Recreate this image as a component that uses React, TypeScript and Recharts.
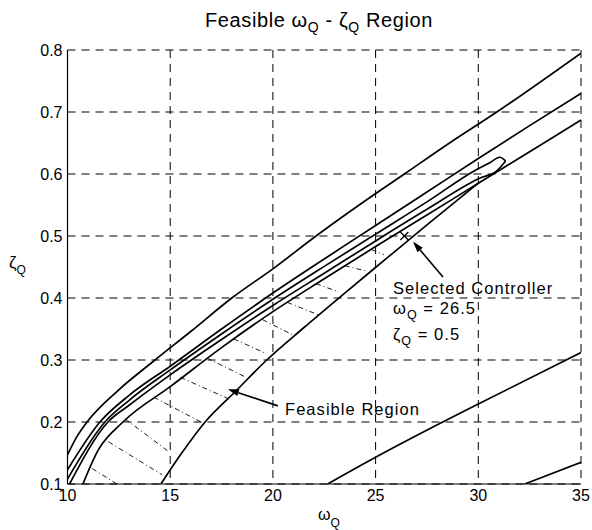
import React from "react";
import {
  LineChart,
  Line,
  XAxis,
  YAxis,
  CartesianGrid,
  ReferenceLine,
  ReferenceDot,
} from "recharts";

// omega_Q ticks / zeta_Q ticks
const xTicks = [10, 15, 20, 25, 30, 35];
const yTicks = [0.1, 0.2, 0.3, 0.4, 0.5, 0.6, 0.7, 0.8];

// contour curves, [omega, zeta]
const curveA: [number, number][] = [
  [10, 0.147], [10.45, 0.176], [10.95, 0.2], [12.5, 0.252], [14.26, 0.3], [16, 0.346],
  [18, 0.4], [20, 0.447], [22.1, 0.5], [24.2, 0.55], [26.4, 0.6], [28.6, 0.65],
  [30.9, 0.7], [35, 0.795],
];
const curveB: [number, number][] = [
  [10, 0.123], [11.58, 0.2], [13, 0.243], [15, 0.29], [17.5, 0.35], [20, 0.408],
  [22.5, 0.463], [25, 0.517], [27.5, 0.571], [30, 0.625], [32.5, 0.678], [35, 0.73],
];
const loopUpper: [number, number][] = [
  [10, 0.108], [11.82, 0.2], [13, 0.235], [15, 0.284], [17.5, 0.342], [20, 0.398],
  [22.5, 0.451], [25, 0.503], [27.5, 0.555], [29.9, 0.607], [30.6, 0.619],
  [31.04, 0.627], [31.33, 0.621],
];
const loopLower: [number, number][] = [
  [10.1, 0.1], [11.97, 0.2], [13, 0.227], [15, 0.276], [17.5, 0.333], [20, 0.388],
  [22.5, 0.44], [25, 0.492], [27.5, 0.543], [30.06, 0.593], [30.9, 0.605],
  [31.33, 0.621],
];
const curveD: [number, number][] = [
  [10.75, 0.1], [11.5, 0.155], [12.7, 0.2], [15, 0.257], [17.5, 0.32], [20, 0.378],
  [22.5, 0.431], [25, 0.483], [27.5, 0.534], [30, 0.585], [32.5, 0.636], [35, 0.687],
];
const curveE: [number, number][] = [
  [14.55, 0.1], [15.5, 0.147], [16.7, 0.2], [18.2, 0.25], [19.7, 0.3], [21.5, 0.352],
  [23.5, 0.408], [25.5, 0.463], [27.5, 0.518], [30.06, 0.587],
];
const curveG: [number, number][] = [
  [22.67, 0.1], [25, 0.143], [28.1, 0.197], [30, 0.229], [35, 0.312],
];
const curveH: [number, number][] = [
  [32.26, 0.1], [35, 0.135],
];

// hatching inside the feasible region: [x1, y1, x2, y2]
const hatches: [number, number, number, number][] = [
  [11.2, 0.125, 12.4, 0.1],
  [12.0, 0.168, 14.6, 0.115],
  [12.8, 0.205, 14.9, 0.153],
  [14.2, 0.24, 16.5, 0.2],
  [15.5, 0.272, 17.8, 0.238],
  [16.8, 0.303, 18.7, 0.272],
  [18.1, 0.334, 19.7, 0.31],
  [19.5, 0.365, 21.0, 0.34],
  [20.7, 0.393, 22.2, 0.373],
  [22.1, 0.423, 23.2, 0.41],
  [23.5, 0.452, 24.6, 0.443],
  [24.8, 0.478, 25.4, 0.47],
];

// annotations
const selected = { x: 26.4, y: 0.5 };
const selectedArrow: [number, number, number, number] = [28.28, 0.434, 26.82, 0.491];
const feasibleArrow: [number, number, number, number] = [20.24, 0.226, 17.81, 0.253];

const curves = [curveA, curveB, loopUpper, loopLower, curveD, curveE, curveG, curveH];

const FONT = '"Liberation Sans", Arial, Helvetica, sans-serif';

const toPts = (c: [number, number][]) => c.map(([x, y]) => ({ x, y }));

const Arrow = (props: any) => {
  const { x1, y1, x2, y2 } = props;
  const ang = Math.atan2(y2 - y1, x2 - x1);
  const len = 11;
  const w = 3.5;
  const bx = x2 - len * Math.cos(ang);
  const by = y2 - len * Math.sin(ang);
  const px = -Math.sin(ang) * w;
  const py = Math.cos(ang) * w;
  return (
    <g>
      <line x1={x1} y1={y1} x2={bx} y2={by} stroke="#000" strokeWidth={1.6} />
      <polygon
        points={`${x2},${y2} ${bx + px},${by + py} ${bx - px},${by - py}`}
        fill="#000"
      />
    </g>
  );
};

const XMark = (props: any) => {
  const { cx, cy } = props;
  const s = 4;
  return (
    <g stroke="#000" strokeWidth={1.3}>
      <line x1={cx - s} y1={cy - s} x2={cx + s} y2={cy + s} />
      <line x1={cx - s} y1={cy + s} x2={cx + s} y2={cy - s} />
    </g>
  );
};

export default function App() {
  return (
    <div style={{ position: "absolute", left: 0, top: 0, width: 592, height: 530, background: "#fff" }}>
      <LineChart
        width={592}
        height={530}
        margin={{ top: 50, right: 11, bottom: 26, left: 7 }}
        style={{ fontFamily: FONT }}
      >
        <CartesianGrid stroke="#000" strokeDasharray="8 6" strokeWidth={1} />
        <XAxis
          type="number"
          dataKey="x"
          domain={[10, 35]}
          ticks={xTicks}
          allowDataOverflow
          axisLine={{ stroke: "#000", strokeWidth: 1.2 }}
          tickLine={false}
          tickSize={0}
          tickMargin={6}
          height={20}
          tick={{ fill: "#000", fontSize: 16, fontFamily: FONT }}
        />
        <YAxis
          type="number"
          domain={[0.1, 0.8]}
          ticks={yTicks}
          allowDataOverflow
          axisLine={{ stroke: "#000", strokeWidth: 1.2 }}
          tickLine={false}
          tickSize={0}
          tickMargin={5}
          width={60.5}
          tickFormatter={(v: number) => v.toFixed(1)}
          tick={{ fill: "#000", fontSize: 16, fontFamily: FONT }}
        />
        {hatches.map(([x1, y1, x2, y2], i) => (
          <ReferenceLine
            key={"h" + i}
            segment={[{ x: x1, y: y1 }, { x: x2, y: y2 }]}
            stroke="#000"
            strokeWidth={0.9}
            strokeDasharray="5 3 1 3"
          />
        ))}
        {curves.map((c, i) => (
          <Line
            key={"c" + i}
            data={toPts(c)}
            dataKey="y"
            type="monotone"
            stroke="#000"
            strokeWidth={1.7}
            dot={false}
            isAnimationActive={false}
          />
        ))}
        <ReferenceDot x={selected.x} y={selected.y} r={4} shape={<XMark />} />
        <ReferenceLine
          segment={[
            { x: selectedArrow[0], y: selectedArrow[1] },
            { x: selectedArrow[2], y: selectedArrow[3] },
          ]}
          shape={<Arrow />}
        />
        <ReferenceLine
          segment={[
            { x: feasibleArrow[0], y: feasibleArrow[1] },
            { x: feasibleArrow[2], y: feasibleArrow[3] },
          ]}
          shape={<Arrow />}
        />
      </LineChart>
      <svg
        width={592}
        height={530}
        style={{ position: "absolute", left: 0, top: 0, pointerEvents: "none", fontFamily: FONT }}
      >
        <text x={319} y={27} textAnchor="middle" fontSize={20} letterSpacing={0.6} fill="#000">
          Feasible ω<tspan fontSize={14} dy={5}>Q</tspan>
          <tspan dy={-5}> - ζ</tspan>
          <tspan fontSize={14} dy={5}>Q</tspan>
          <tspan dy={-5}> Region</tspan>
        </text>
        <text x={9} y={268} fontSize={17} fill="#000">
          ζ<tspan fontSize={12} dy={6}>Q</tspan>
        </text>
        <text x={318} y={520} fontSize={16} fill="#000">
          ω<tspan fontSize={12} dy={7}>Q</tspan>
        </text>
        <g fontSize={16.5} letterSpacing={1.05} fill="#000">
          <text x={393} y={294}>Selected Controller</text>
          <text x={393} y={314}>
            ω<tspan fontSize={12.5} dy={5}>Q</tspan>
            <tspan dy={-5}> = 26.5</tspan>
          </text>
          <text x={393} y={340}>
            ζ<tspan fontSize={12.5} dy={5}>Q</tspan>
            <tspan dy={-5}> = 0.5</tspan>
          </text>
          <text x={285} y={415}>Feasible Region</text>
        </g>
      </svg>
    </div>
  );
}
